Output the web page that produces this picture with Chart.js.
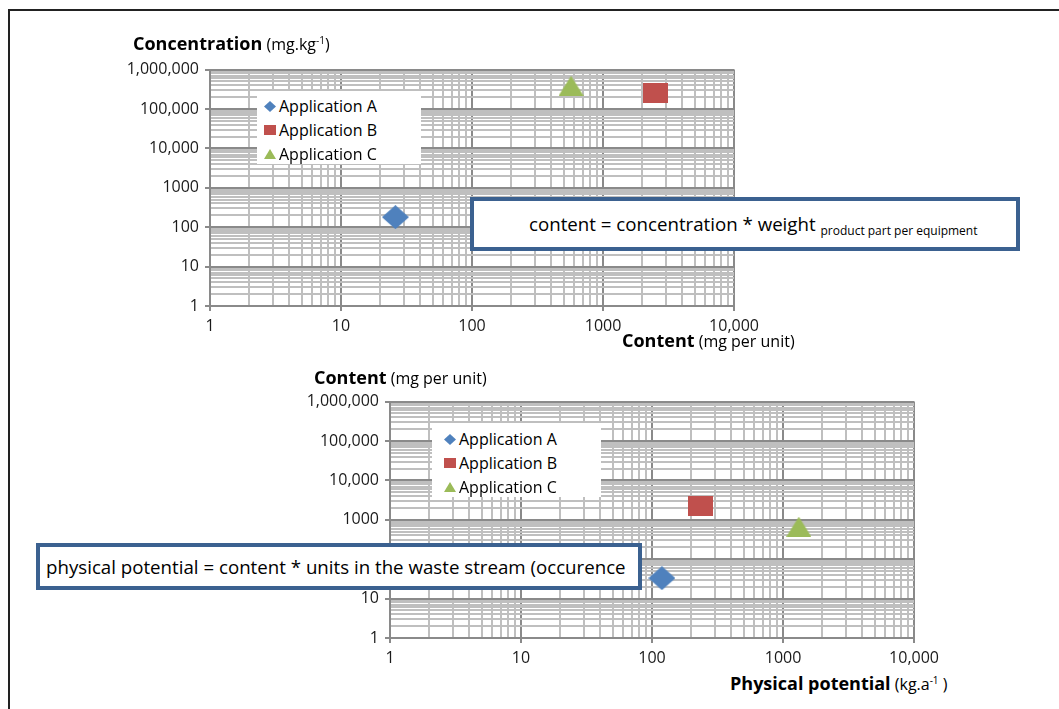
<!DOCTYPE html>
<html>
<head>
<meta charset="utf-8">
<script src="https://cdn.jsdelivr.net/npm/chart.js@4.4.0/dist/chart.umd.min.js"></script>
<style>
  body { margin: 0; background: #fff; font-family: "Open Sans", sans-serif; color: #000; }
  #page { position: relative; width: 1059px; height: 709px; overflow: hidden; }
  #frame { position: absolute; left: 8px; top: 9px; width: 1200px; height: 900px; border-top: 2px solid #222; border-left: 2px solid #222; }
  canvas.plot { position: absolute; }
  .title { position: absolute; white-space: nowrap; line-height: 20px; }
  .title b { font-size: 18px; }
  .title span { font-size: 16px; }
  .title sup { font-size: 10px; vertical-align: 6px; }
  .legend { position: absolute; background: #fff; }
  .legend .item { position: absolute; left: 0; height: 24px; width: 100%; font-size: 16px; line-height: 24px; white-space: nowrap; }
  .legend .item canvas { position: absolute; }
  .legend .item span { position: absolute; }
  .note { position: absolute; box-sizing: border-box; border: 4px solid #3b6190; background: #fff; white-space: nowrap; font-size: 18.7px; }
  .note sub { font-size: 12px; vertical-align: -4px; }
</style>
</head>
<body>
<div id="page">
  <div id="frame"></div>

  <canvas id="topChart" class="plot" width="645" height="284" style="left:120px; top:54px;"></canvas>
  <canvas id="bottomChart" class="plot" width="645" height="284" style="left:300px; top:386px;"></canvas>

  <div class="title" style="left:133px; top:30px;"><b>Concentration</b> <span>(mg.kg<sup>-1</sup>)</span></div>
  <div class="title" style="left:622px; top:330px;"><b>Content</b> <span>(mg per unit)</span></div>
  <div class="title" style="left:314px; top:367px;"><b>Content</b> <span>(mg per unit)</span></div>
  <div class="title" style="left:730px; top:670px;"><b>Physical potential</b> <span>(kg.a<sup>-1</sup> )</span></div>

  <div id="topLegend" class="legend" style="left:257px; top:91px; width:164px; height:73px;"></div>
  <div id="bottomLegend" class="legend" style="left:432px; top:423px; width:169px; height:74px;"></div>

  <div class="note" style="left:470px; top:197px; width:550px; height:54px; line-height:46px; padding-left:55px;">content = concentration * weight <sub>product part per equipment</sub></div>
  <div class="note" style="left:36px; top:543px; width:606px; height:47px; line-height:39px; padding-left:6px;">physical potential = content * units in the waste stream (occurence</div>
</div>

<script>
// series
const seriesNames = ['Application A', 'Application B', 'Application C'];
const seriesColors = ['#4F81BD', '#C0504D', '#9BBB59'];
const markerShapes = ['diamond', 'square', 'triangle'];

// top chart: content (mg per unit) vs concentration (mg.kg-1)
const topContent = [26, 2500, 570];
const topConcentration = [180, 250000, 390000];

// bottom chart: physical potential (kg.a-1) vs content (mg per unit)
const bottomPhysical = [119, 234, 1320];
const bottomContent = [33, 2240, 670];

// tick labels, one per decade
const xTickLabels = ['1', '10', '100', '1000', '10,000'];
const yTickLabels = ['1', '10', '100', '1000', '10,000', '100,000', '1,000,000'];

function markerImage(shape, w, h, color) {
    const c = document.createElement('canvas');
    c.width = w;
    c.height = h;
    const g = c.getContext('2d');
    g.fillStyle = color;
    g.beginPath();
    if (shape === 'diamond') {
        g.moveTo(w / 2, 0); g.lineTo(w, h / 2); g.lineTo(w / 2, h); g.lineTo(0, h / 2);
    } else if (shape === 'triangle') {
        g.moveTo(w / 2, 0); g.lineTo(w, h); g.lineTo(0, h);
    } else {
        g.rect(0, 0, w, h);
    }
    g.closePath();
    g.fill();
    return c;
}

const bigSizes = { diamond: [27, 24], square: [25, 20], triangle: [25, 20] };
const smallSizes = { diamond: [12, 11], square: [12, 10], triangle: [12, 10] };

function isDecade(v) {
    const l = Math.log10(v);
    return Math.abs(l - Math.round(l)) < 1e-9;
}

// 1..9 in every decade, plus the top power of ten
function logTicks(decades) {
    const ticks = [];
    for (let e = 0; e < decades; e++) {
        for (let m = 1; m <= 9; m++) {
            ticks.push({ value: m * Math.pow(10, e) });
        }
    }
    ticks.push({ value: Math.pow(10, decades) });
    return ticks;
}

function logAxis(labels, fit) {
    const decades = labels.length - 1;
    return {
        type: 'logarithmic',
        min: 1,
        max: Math.pow(10, decades),
        afterBuildTicks: function(scale) { scale.ticks = logTicks(decades); },
        afterFit: fit,
        border: { display: true, color: '#8a8a8a', width: 2 },
        grid: {
            color: c => (c.tick && isDecade(c.tick.value)) ? '#8a8a8a' : '#bfbfbf',
            lineWidth: 2,
            tickColor: c => (c.tick && isDecade(c.tick.value)) ? '#8a8a8a' : 'rgba(0,0,0,0)',
            tickLength: 5
        },
        ticks: {
            autoSkip: false,
            maxRotation: 0,
            minRotation: 0,
            padding: 6,
            color: '#1a1a1a',
            font: { family: 'Open Sans', size: 16 },
            callback: function(v) {
                return isDecade(v) ? labels[Math.round(Math.log10(v))] : '';
            }
        }
    };
}

function makeDatasets(xs, ys) {
    return seriesNames.map(function(name, i) {
        const sz = bigSizes[markerShapes[i]];
        return {
            label: name,
            data: [{ x: xs[i], y: ys[i] }],
            pointStyle: markerImage(markerShapes[i], sz[0], sz[1], seriesColors[i]),
            pointRadius: 12,
            backgroundColor: seriesColors[i],
            borderWidth: 0,
            showLine: false
        };
    });
}

function makeChart(id, xs, ys) {
    const ctx = document.getElementById(id);
    return new Chart(ctx.getContext('2d'), {
        type: 'scatter',
        data: { datasets: makeDatasets(xs, ys) },
        options: {
            responsive: false,
            animation: false,
            devicePixelRatio: 1,
            layout: { padding: { left: 0, right: 30, top: 12, bottom: 0 } },
            plugins: {
                legend: { display: false },
                tooltip: { enabled: false }
            },
            scales: {
                x: logAxis(xTickLabels, s => { s.height = 32; }),
                y: logAxis(yTickLabels, s => { s.width = 90; })
            }
        }
    });
}

function buildLegend(id, markerLeft, textLeft, firstTop) {
    const box = document.getElementById(id);
    seriesNames.forEach(function(name, i) {
        const row = document.createElement('div');
        row.className = 'item';
        row.style.top = (firstTop + i * 24) + 'px';
        const sz = smallSizes[markerShapes[i]];
        const m = markerImage(markerShapes[i], sz[0], sz[1], seriesColors[i]);
        m.style.left = markerLeft + 'px';
        m.style.top = (12 - sz[1] / 2) + 'px';
        row.appendChild(m);
        const t = document.createElement('span');
        t.style.left = textLeft + 'px';
        t.textContent = name;
        row.appendChild(t);
        box.appendChild(row);
    });
}

makeChart('topChart', topContent, topConcentration);
makeChart('bottomChart', bottomPhysical, bottomContent);
buildLegend('topLegend', 7, 22, 3);
buildLegend('bottomLegend', 12, 27, 4);
</script>
</body>
</html>
